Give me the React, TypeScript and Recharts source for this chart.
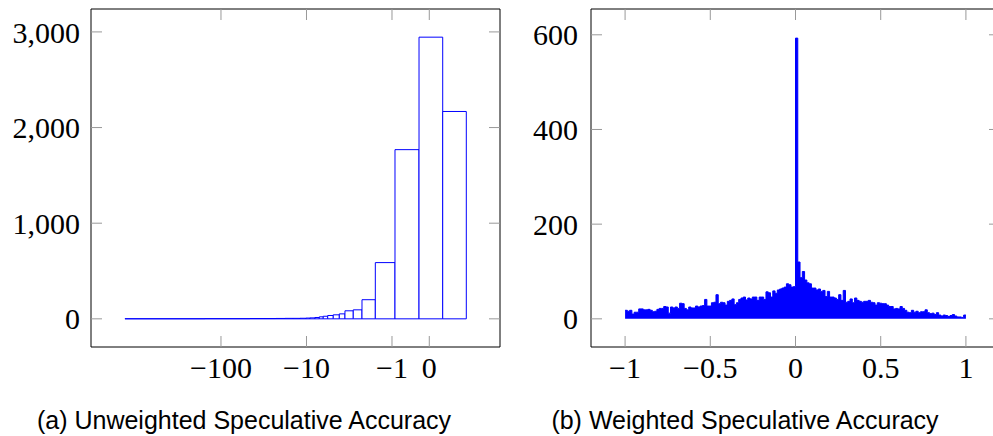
import { ComposedChart, Area, XAxis, YAxis, ReferenceArea } from "recharts"

// (a) unweighted: bin edges in axis units (one unit = one decade, -1 sits at 0)
const leftEdges = [
  -3.123, -2.538, -2.187, -1.895, -1.661, -1.485, -1.357, -1.251, -1.158, -1.076,
  -1.006, -0.959, -0.901, -0.85, -0.804, -0.752, -0.687, -0.616, -0.55, -0.453,
  -0.351, -0.195, 0.035, 0.316, 0.593, 0.869,
]
const leftCounts = [
  1, 1, 2, 2, 3, 3, 4, 5, 5, 6,
  8, 10, 14, 21, 27, 35, 42, 52, 84, 94,
  200, 588, 1769, 2945, 2168,
]
const leftTickPos = [-2, -1, 0, 0.436]
const leftTickLabels = ["−100", "−10", "−1", "0"]
const leftYTicks = [0, 1000, 2000, 3000]

// (b) weighted: 150 bins over [-1, 1]
const rightStart = -1
const rightBinWidth = 2 / 150
const rightCounts = [
  18, 16, 18, 10, 14, 14, 21, 21, 19, 19, 20, 18, 15, 16, 20, 22, 22, 26, 25, 12,
  25, 23, 25, 22, 33, 32, 22, 19, 25, 23, 23, 27, 25, 27, 28, 41, 27, 27, 34, 35,
  51, 32, 35, 34, 29, 37, 39, 42, 30, 34, 41, 44, 46, 40, 44, 42, 46, 46, 39, 46,
  46, 41, 57, 55, 46, 59, 54, 61, 63, 65, 67, 74, 72, 67, 68,
  593, 120, 87, 100, 82, 76, 74, 65, 65, 61, 63, 58, 60, 47, 58, 46, 46, 44, 41, 51,
  39, 60, 35, 37, 42, 34, 44, 39, 37, 35, 37, 37, 39, 35, 34, 29, 34, 33, 32, 32,
  29, 26, 26, 21, 22, 21, 26, 22, 18, 14, 13, 18, 14, 16, 13, 15, 15, 19, 13, 11,
  12, 9, 13, 8, 6, 8, 7, 5, 7, 9, 6, 4, 4, 3, 8,
]
const rightXTicks = [-1, -0.5, 0, 0.5, 1]
const rightXLabels = ["−1", "−0.5", "0", "0.5", "1"]
const rightYTicks = [0, 200, 400, 600]

const BLUE = "#0000ff"
const TICK_GRAY = "#999"
const TICK_LEN = 11
const font = { fontFamily: "'Liberation Serif', serif", fontSize: 30, fill: "#000" }

// plot box inside each 510x400 chart
const PLOT_TOP = 9
const PLOT_BOTTOM = 347
const PLOT_LEFT = 91
const PLOT_RIGHT = 500

const leftData = leftCounts.map((c, i) => ({ x: leftEdges[i], count: c }))
const rightData = rightCounts
  .map((c, i) => ({ x: rightStart + i * rightBinWidth, count: c }))
  .concat([{ x: 1, count: rightCounts[rightCounts.length - 1] }])

const fmtThousands = (v: number) => v.toLocaleString("en-US")

// inward ticks on bottom and top, label under the box
const makeXTick = (label: (v: number) => string) => (props: any) => {
  const { x, payload } = props
  return (
    <g>
      <line x1={x} x2={x} y1={PLOT_BOTTOM} y2={PLOT_BOTTOM - TICK_LEN} stroke={TICK_GRAY} />
      <line x1={x} x2={x} y1={PLOT_TOP} y2={PLOT_TOP + TICK_LEN} stroke={TICK_GRAY} />
      <text x={x} y={PLOT_BOTTOM + 31} textAnchor="middle" {...font}>{label(payload.value)}</text>
    </g>
  )
}

// inward ticks on left and right, label left of the box
const makeYTick = (label: (v: number) => string, gap: number) => (props: any) => {
  const { y, payload } = props
  return (
    <g>
      <line x1={PLOT_LEFT} x2={PLOT_LEFT + TICK_LEN} y1={y} y2={y} stroke={TICK_GRAY} />
      <line x1={PLOT_RIGHT} x2={PLOT_RIGHT - TICK_LEN} y1={y} y2={y} stroke={TICK_GRAY} />
      <text x={PLOT_LEFT - gap} y={y} dy="0.355em" textAnchor="end" {...font}>{label(payload.value)}</text>
    </g>
  )
}

function LeftChart() {
  const xDomain = [-3.52, 1.263]
  const yDomain = [-294.5, 3239.5]
  return (
    <ComposedChart width={510} height={400} data={leftData}
      margin={{ top: PLOT_TOP, right: 510 - PLOT_RIGHT, left: 0, bottom: 0 }}>
      <XAxis dataKey="x" type="number" domain={xDomain} allowDataOverflow ticks={leftTickPos}
        interval={0} height={400 - PLOT_BOTTOM} tickLine={false} axisLine={false}
        tick={makeXTick((v) => leftTickLabels[leftTickPos.indexOf(v)])} />
      <YAxis type="number" domain={yDomain} allowDataOverflow ticks={leftYTicks} interval={0}
        width={PLOT_LEFT} tickLine={false} axisLine={false}
        tick={makeYTick(fmtThousands, 11)} />
      {leftCounts.map((c, i) => (
        <ReferenceArea key={i} x1={leftEdges[i]} x2={leftEdges[i + 1]} y1={0} y2={c}
          stroke={BLUE} strokeWidth={1} fill="#fff" fillOpacity={1} ifOverflow="visible" />
      ))}
      <ReferenceArea x1={xDomain[0]} x2={xDomain[1]} y1={yDomain[0]} y2={yDomain[1]}
        stroke="#000" strokeWidth={1} fill="none" ifOverflow="visible" />
    </ComposedChart>
  )
}

function RightChart() {
  const xDomain = [-1.2, 1.2]
  const yDomain = [-59.5, 654.5]
  return (
    <ComposedChart width={510} height={400} data={rightData}
      margin={{ top: PLOT_TOP, right: 510 - PLOT_RIGHT, left: 0, bottom: 0 }}>
      <XAxis dataKey="x" type="number" domain={xDomain} allowDataOverflow ticks={rightXTicks}
        interval={0} height={400 - PLOT_BOTTOM} tickLine={false} axisLine={false}
        tick={makeXTick((v) => rightXLabels[rightXTicks.indexOf(v)])} />
      <YAxis type="number" domain={yDomain} allowDataOverflow ticks={rightYTicks} interval={0}
        width={PLOT_LEFT} tickLine={false} axisLine={false}
        tick={makeYTick((v) => String(v), 13)} />
      <Area type="stepAfter" dataKey="count" baseValue={0} stroke={BLUE} strokeWidth={1}
        fill={BLUE} fillOpacity={1} dot={false} activeDot={false} isAnimationActive={false} />
      <ReferenceArea x1={xDomain[0]} x2={xDomain[1]} y1={yDomain[0]} y2={yDomain[1]}
        stroke="#000" strokeWidth={1} fill="none" ifOverflow="visible" />
    </ComposedChart>
  )
}

export default function App() {
  return (
    <div style={{ position: "absolute", left: 0, top: 0, width: 993, height: 436, overflow: "hidden", background: "#fff" }}>
      <div style={{ position: "absolute", left: 0, top: 0 }}>
        <LeftChart />
      </div>
      <div style={{ position: "absolute", left: 500, top: 0 }}>
        <RightChart />
      </div>
      <svg width={993} height={436} style={{ position: "absolute", left: 0, top: 0, pointerEvents: "none" }}>
        <g fontFamily="'Liberation Sans', sans-serif" fontSize={25} fill="#000" textAnchor="middle">
          <text x={244} y={429}>(a) Unweighted Speculative Accuracy</text>
          <text x={745} y={429}>(b) Weighted Speculative Accuracy</text>
        </g>
      </svg>
    </div>
  )
}
